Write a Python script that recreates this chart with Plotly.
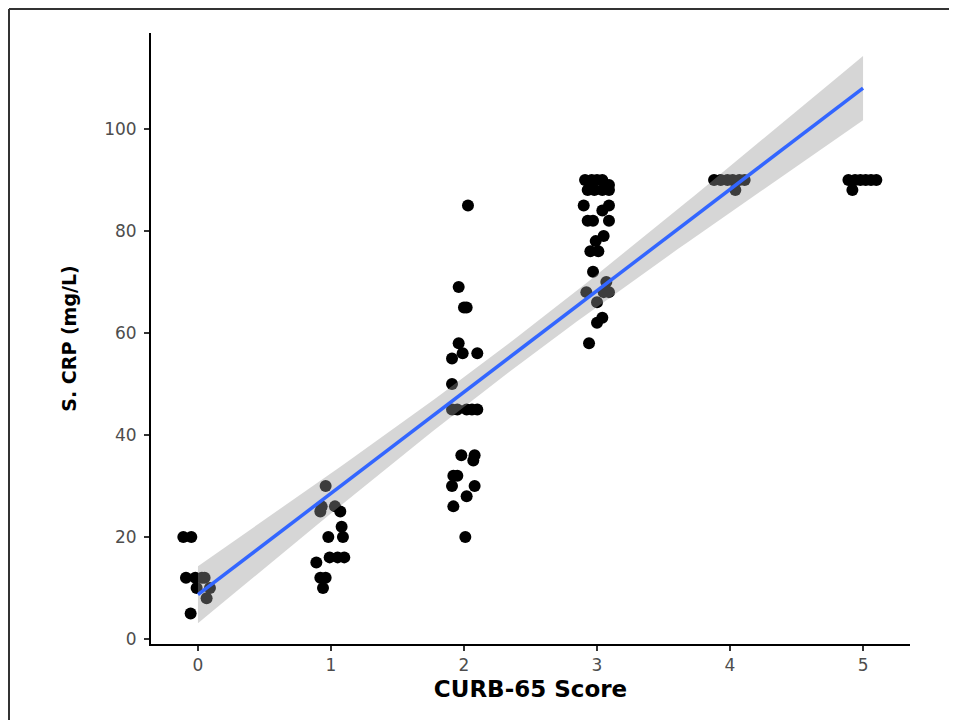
import numpy as np
import plotly.graph_objects as go

# CURB-65 score (jittered position as seen) and S. CRP values
score0_x = [-0.11, -0.05, -0.09, -0.02, 0.03, 0.05, -0.01, 0.09, 0.065, -0.055]
score0_y = [20, 20, 12, 12, 12, 12, 10, 10, 8, 5]
score1_x = [0.96, 0.92, 0.93, 1.03, 1.07, 1.08, 0.98, 1.09, 0.99, 1.05, 1.10, 0.89, 0.92, 0.96, 0.94]
score1_y = [30, 25, 26, 26, 25, 22, 20, 20, 16, 16, 16, 15, 12, 12, 10]
score2_x = [2.03, 1.96, 2.00, 2.02, 1.96, 1.91, 1.99, 2.10, 1.91, 1.91, 1.95, 2.02, 2.06, 2.10,
            1.98, 2.08, 2.07, 1.92, 1.95, 1.91, 2.08, 2.02, 1.92, 2.01]
score2_y = [85, 69, 65, 65, 58, 55, 56, 56, 50, 45, 45, 45, 45, 45,
            36, 36, 35, 32, 32, 30, 30, 28, 26, 20]
score3_x = [2.91, 2.96, 3.00, 3.04, 2.93, 2.98, 3.04, 3.09, 3.09, 2.90, 3.09, 3.04, 2.93, 2.97, 3.09,
            3.05, 2.99, 2.95, 3.01, 2.97, 3.07, 2.92, 3.05, 3.09, 3.00, 3.04, 3.00, 2.94]
score3_y = [90, 90, 90, 90, 88, 88, 88, 88, 89, 85, 85, 84, 82, 82, 82,
            79, 78, 76, 76, 72, 70, 68, 68, 68, 66, 63, 62, 58]
score4_x = [3.88, 3.93, 3.98, 4.02, 4.07, 4.11, 4.04]
score4_y = [90, 90, 90, 90, 90, 90, 88]
score5_x = [4.89, 4.94, 4.98, 5.02, 5.06, 5.10, 4.92]
score5_y = [90, 90, 90, 90, 90, 90, 88]
scores = [0, 1, 2, 3, 4, 5]

x_ticks = [0, 1, 2, 3, 4, 5]
y_ticks = [0, 20, 40, 60, 80, 100]

jx = np.array(score0_x + score1_x + score2_x + score3_x + score4_x + score5_x)
yy = np.array(score0_y + score1_y + score2_y + score3_y + score4_y + score5_y, dtype=float)
groups = [score0_y, score1_y, score2_y, score3_y, score4_y, score5_y]
xs = np.concatenate([[s] * len(g) for s, g in zip(scores, groups)]).astype(float)

# linear model (lm) with 95% CI
n = len(xs)
b1, b0 = np.polyfit(xs, yy, 1)
resid = yy - (b0 + b1 * xs)
sigma = np.sqrt(np.sum(resid ** 2) / (n - 2))
sxx = np.sum((xs - xs.mean()) ** 2)
grid = np.linspace(min(scores), max(scores), 80)
fit = b0 + b1 * grid
se = sigma * np.sqrt(1 / n + (grid - xs.mean()) ** 2 / sxx)
tq = 1.988
lo, hi = fit - tq * se, fit + tq * se

fig = go.Figure()
fig.add_trace(go.Scatter(x=jx, y=yy, mode="markers",
                         marker=dict(color="black", size=12, line=dict(width=0)),
                         showlegend=False, hoverinfo="skip"))
fig.add_trace(go.Scatter(x=np.concatenate([grid, grid[::-1]]),
                         y=np.concatenate([hi, lo[::-1]]),
                         fill="toself", fillcolor="rgba(153,153,153,0.4)",
                         line=dict(width=0), mode="lines", showlegend=False, hoverinfo="skip"))
fig.add_trace(go.Scatter(x=grid, y=fit, mode="lines",
                         line=dict(color="#3366FF", width=3.5), showlegend=False))

# page has an 8px body offset
L, R, T, B = 143, 47, 25, 76
W, H = 949, 712
pw, ph = W - L - R, H - T - B

fig.update_layout(
    width=W, height=H,
    margin=dict(l=L, r=R, t=T, b=B),
    paper_bgcolor="white", plot_bgcolor="white",
    font=dict(family="DejaVu Sans", color="#4D4D4D"),
    xaxis=dict(range=[-0.353, 5.353], tickvals=x_ticks, ticks="outside", ticklen=5,
               tickwidth=1.5, tickcolor="#333333", showline=True, linecolor="black",
               linewidth=2, showgrid=False, zeroline=False,
               tickfont=dict(size=17, color="#4D4D4D"),
               title=dict(text="<b>CURB-65 Score</b>", font=dict(size=23, color="black"),
                          standoff=6)),
    yaxis=dict(range=[-0.98, 118.8], tickvals=y_ticks, ticks="outside", ticklen=5,
               tickwidth=1.5, tickcolor="#333333", showline=True, linecolor="black",
               linewidth=2, showgrid=False, zeroline=False, ticklabelstandoff=4,
               tickfont=dict(size=17, color="#4D4D4D"),
               title=dict(text="<b>S. CRP (mg/L)</b>", font=dict(size=19, color="black"),
                          standoff=22)),
    shapes=[
        dict(type="line", xref="paper", yref="paper", x0=(-L + 1) / pw, x1=1 + R / pw,
             y0=1 + (T - 1) / ph, y1=1 + (T - 1) / ph, line=dict(color="#333333", width=2)),
        dict(type="line", xref="paper", yref="paper", x0=(-L + 1) / pw, x1=(-L + 1) / pw,
             y0=1 + (T - 1) / ph, y1=-B / ph, line=dict(color="#333333", width=2)),
    ],
)

fig.write_html("out.html")
